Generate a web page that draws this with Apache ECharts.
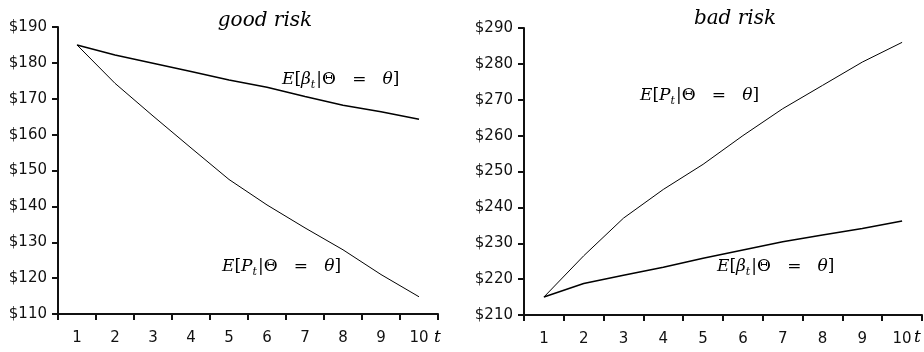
<!DOCTYPE html>
<html>
<head>
<meta charset="utf-8">
<script src="https://cdn.jsdelivr.net/npm/echarts@6/dist/echarts.min.js"></script>
<style>
  html, body { margin: 0; padding: 0; background: #fff; }
  #chart { width: 924px; height: 352px; }
</style>
</head>
<body>
<div id="chart"></div>
<script>
const periods = ["1", "2", "3", "4", "5", "6", "7", "8", "9", "10"];

// good risk
const goodBeta = [185, 182.2, 179.9, 177.6, 175.2, 173.2, 170.6, 168.2, 166.4, 164.3];
const goodPrice = [185, 174.3, 165.2, 156.3, 147.5, 140.4, 134, 127.9, 121, 114.8];
const goodTicks = [110, 190, 10];

// bad risk
const badBeta = [215, 218.8, 221.1, 223.3, 225.8, 228.1, 230.4, 232.3, 234.1, 236.2];
const badPrice = [215, 226.5, 237, 245, 252, 260, 267.5, 274, 280.5, 286];
const badTicks = [210, 290, 10];

const el = document.getElementById("chart");
const chart = echarts.init(el, null, { renderer: "canvas" });

const sans = "DejaVu Sans, sans-serif";
const serif = "DejaVu Serif, serif";

function xAxisFor(gridIndex) {
  return {
    type: "category",
    gridIndex,
    data: periods,
    boundaryGap: true,
    axisLine: { lineStyle: { color: "#111", width: 2 } },
    axisTick: { show: true, length: 6, lineStyle: { color: "#111", width: 2 } },
    axisLabel: { color: "#111", fontFamily: sans, fontSize: 15, margin: 17 },
    splitLine: { show: false },
  };
}

function yAxisFor(gridIndex, ticks) {
  return {
    type: "value",
    gridIndex,
    min: ticks[0],
    max: ticks[1],
    interval: ticks[2],
    axisLine: { show: true, lineStyle: { color: "#111", width: 2 } },
    axisTick: { show: true, length: 6, lineStyle: { color: "#111", width: 2 } },
    axisLabel: {
      color: "#111",
      fontFamily: sans,
      fontSize: 15,
      margin: 11,
      formatter: (v) => "$" + v,
    },
    splitLine: { show: false },
  };
}

function line(name, xi, data, width) {
  return {
    name,
    type: "line",
    xAxisIndex: xi,
    yAxisIndex: xi,
    data,
    symbol: "none",
    smooth: false,
    lineStyle: { color: "#000", width },
    silent: true,
  };
}

const mathRich = {
  m: { fontFamily: serif, fontStyle: "italic", fontSize: 17, color: "#000", lineHeight: 22 },
  u: { fontFamily: serif, fontSize: 17, color: "#000", lineHeight: 22 },
  s: { fontFamily: serif, fontStyle: "italic", fontSize: 11, color: "#000", lineHeight: 22, padding: [11, 1, 0, 0] },
};

function mathLabel(sym, x, y) {
  return {
    type: "text",
    left: x,
    top: y,
    silent: true,
    style: {
      text: "{m|E}{u|[}{m|" + sym + "}{s|t}{u||Θ   =   }{m|θ}{u|]}",
      rich: mathRich,
    },
  };
}

const titleStyle = { fontFamily: serif, fontStyle: "italic", fontWeight: "normal", fontSize: 20, color: "#000" };

chart.setOption({
  animation: false,
  backgroundColor: "#fff",
  title: [
    { text: "good risk", left: 260, top: 6, textAlign: "center", textStyle: titleStyle },
    { text: "bad risk", left: 730, top: 4, textAlign: "center", textStyle: titleStyle },
  ],
  grid: [
    { left: 58, top: 27, width: 380, height: 287, containLabel: false },
    { left: 524, top: 28, width: 398, height: 287, containLabel: false },
  ],
  xAxis: [xAxisFor(0), xAxisFor(1)],
  yAxis: [yAxisFor(0, goodTicks), yAxisFor(1, badTicks)],
  series: [
    line("E[beta] good", 0, goodBeta, 1.5),
    line("E[P] good", 0, goodPrice, 1),
    line("E[beta] bad", 1, badBeta, 1.5),
    line("E[P] bad", 1, badPrice, 1),
  ],
  graphic: [
    mathLabel("β", 282, 69),
    mathLabel("P", 222, 256),
    mathLabel("P", 640, 85),
    mathLabel("β", 717, 256),
    {
      type: "text",
      left: 434,
      top: 329,
      silent: true,
      style: { text: "t", fontFamily: serif, fontStyle: "italic", fontSize: 17, fill: "#000" },
    },
    {
      type: "text",
      left: 914,
      top: 329,
      silent: true,
      style: { text: "t", fontFamily: serif, fontStyle: "italic", fontSize: 17, fill: "#000" },
    },
  ],
});

window.addEventListener("resize", () => chart.resize());
</script>
</body>
</html>
